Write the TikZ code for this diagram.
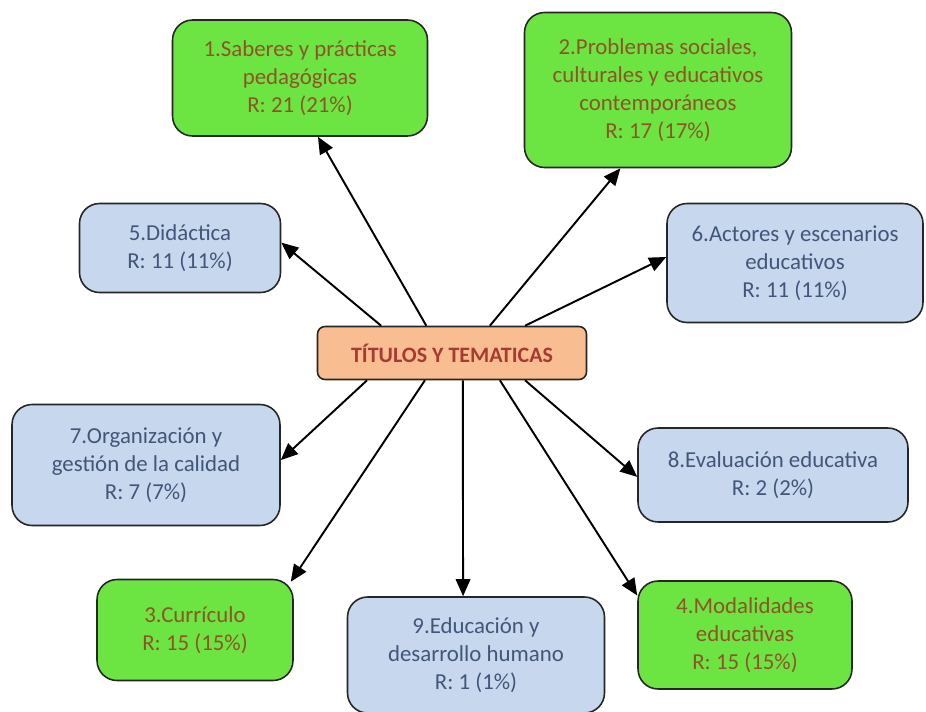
\documentclass[tikz,border=0pt]{standalone}
\usepackage{fontspec}
\setmainfont{Carlito}
\usetikzlibrary{arrows.meta, positioning, calc}
\definecolor{leaf}{RGB}{108,228,66}
\definecolor{leaftext}{RGB}{140,86,36}
\definecolor{sky}{RGB}{198,215,238}
\definecolor{skytext}{RGB}{66,86,122}
\definecolor{peach}{RGB}{248,190,146}
\definecolor{peachtext}{RGB}{168,58,50}

\begin{document}
\begin{tikzpicture}[
    x=0.02cm, y=-0.02cm,
    box/.style={rectangle, rounded corners=0.4cm, draw=black!85, line width=0.9pt, align=center, inner sep=2pt, font=\fontsize{13}{16}\selectfont},
    gbox/.style={box, fill=leaf, text=leaftext},
    bbox/.style={box, fill=sky, text=skytext},
    arrow/.style={-{Triangle[length=3.4mm, width=2.9mm]}, line width=1.1pt}
]
\useasboundingbox (0,0) rectangle (926,711);
\node[box, fill=peach, text=peachtext, rounded corners=0.15cm, minimum width=5.38cm, minimum height=1.06cm, font=\fontsize{12.5}{14}\selectfont\bfseries] (ttl) at (452,353) {TÍTULOS Y TEMATICAS};
\node[gbox, minimum width=5.1cm, minimum height=2.32cm] (sab) at (300,78) {1.Saberes y prácticas\\pedagógicas\\R: 21 (21\%)};
\node[gbox, minimum width=5.34cm, minimum height=3.1cm] (pro) at (658,90) {2.Problemas sociales,\\culturales y educativos\\contemporáneos\\R: 17 (17\%)};
\node[bbox, minimum width=4.02cm, minimum height=1.78cm] (did) at (180,248) {5.Didáctica\\R: 11 (11\%)};
\node[bbox, minimum width=5.12cm, minimum height=2.38cm] (act) at (795,263) {6.Actores y escenarios\\educativos\\R: 11 (11\%)};
\node[bbox, minimum width=5.36cm, minimum height=2.42cm] (org) at (146,465) {7.Organización y\\gestión de la calidad\\R: 7 (7\%)};
\node[bbox, minimum width=5.4cm, minimum height=1.88cm] (eva) at (773,475) {8.Evaluación educativa\\R: 2 (2\%)};
\node[gbox, minimum width=3.92cm, minimum height=2.02cm] (cur) at (195,630) {3.Currículo\\R: 15 (15\%)};
\node[bbox, minimum width=5.14cm, minimum height=2.32cm] (edu) at (476,655) {9.Educación y\\desarrollo humano\\R: 1 (1\%)};
\node[gbox, minimum width=4.28cm, minimum height=2.16cm] (mod) at (745,635) {4.Modalidades\\educativas\\R: 15 (15\%)};
\draw[arrow] ($(ttl.north west)!.405!(ttl.north east)$) -- ($(sab.south west)!.57!(sab.south east)$);
\draw[arrow] ($(ttl.north west)!.64!(ttl.north east)$) -- ($(pro.south west)!.36!(pro.south east)$);
\draw[arrow] ($(ttl.north west)!.238!(ttl.north east)$) -- ($(did.north east)!.44!(did.south east)$);
\draw[arrow] ($(ttl.north west)!.77!(ttl.north east)$) -- ($(act.north west)!.45!(act.south west)$);
\draw[arrow] ($(ttl.south west)!.186!(ttl.south east)$) -- ($(org.north east)!.46!(org.south east)$);
\draw[arrow] ($(ttl.south west)!.77!(ttl.south east)$) -- ($(eva.north west)!.52!(eva.south west)$);
\draw[arrow] ($(ttl.south west)!.40!(ttl.south east)$) -- ($(cur.north east)+(-3,3)$);
\draw[arrow] ($(ttl.south west)!.54!(ttl.south east)$) -- ($(edu.north west)!.45!(edu.north east)$);
\draw[arrow] ($(ttl.south west)!.677!(ttl.south east)$) -- ($(mod.north west)!.14!(mod.south west)$);
\end{tikzpicture}
\end{document}
